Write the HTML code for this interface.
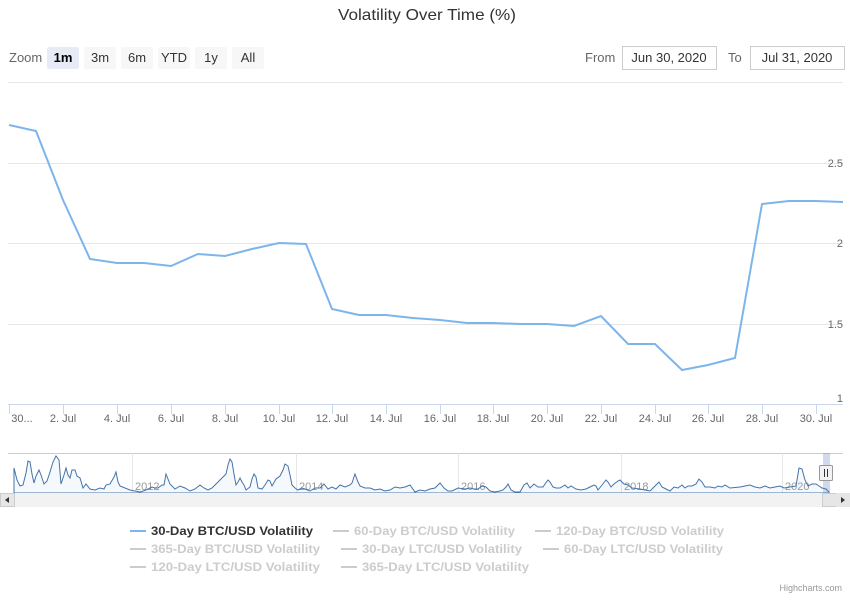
<!DOCTYPE html>
<html><head><style>
body{margin:0;background:#fff;font-family:"Liberation Sans",sans-serif;}
svg text{font-family:"Liberation Sans",sans-serif;}
</style></head><body>
<svg width="850" height="596" xmlns="http://www.w3.org/2000/svg">
<rect width="850" height="596" fill="#fff"/>
<text x="338" y="20" font-size="16" fill="#333" textLength="178" lengthAdjust="spacingAndGlyphs">Volatility Over Time (%)</text>
<text x="9" y="62" font-size="13" fill="#666">Zoom</text>
<rect x="47" y="47" width="32" height="22" rx="2" fill="#e6ebf5"/><text x="63" y="62" font-size="13" font-weight="bold" text-anchor="middle" fill="#000">1m</text>
<rect x="84" y="47" width="32" height="22" rx="2" fill="#f7f7f7"/><text x="100" y="62" font-size="13" text-anchor="middle" fill="#333">3m</text>
<rect x="121" y="47" width="32" height="22" rx="2" fill="#f7f7f7"/><text x="137" y="62" font-size="13" text-anchor="middle" fill="#333">6m</text>
<rect x="158" y="47" width="32" height="22" rx="2" fill="#f7f7f7"/><text x="174" y="62" font-size="13" text-anchor="middle" fill="#333">YTD</text>
<rect x="195" y="47" width="32" height="22" rx="2" fill="#f7f7f7"/><text x="211" y="62" font-size="13" text-anchor="middle" fill="#333">1y</text>
<rect x="232" y="47" width="32" height="22" rx="2" fill="#f7f7f7"/><text x="248" y="62" font-size="13" text-anchor="middle" fill="#333">All</text>
<text x="585" y="62" font-size="13" fill="#666">From</text>
<rect x="622.5" y="46.5" width="94" height="23" fill="#fff" stroke="#ccc"/><text x="669" y="62" font-size="13" text-anchor="middle" fill="#333">Jun 30, 2020</text>
<text x="728" y="62" font-size="13" fill="#666">To</text>
<rect x="750.5" y="46.5" width="94" height="23" fill="#fff" stroke="#ccc"/><text x="797" y="62" font-size="13" text-anchor="middle" fill="#333">Jul 31, 2020</text>
<g stroke="#e6e6e6" stroke-width="1">
<line x1="8" x2="843" y1="82.5" y2="82.5"/><line x1="8" x2="843" y1="163.5" y2="163.5"/><line x1="8" x2="843" y1="243.5" y2="243.5"/><line x1="8" x2="843" y1="324.5" y2="324.5"/>
</g>
<line x1="8" x2="843" y1="404.5" y2="404.5" stroke="#ccd6eb"/>
<g font-size="11" fill="#666" text-anchor="end">
<text x="843" y="167">2.5</text><text x="843" y="247">2</text><text x="843" y="328">1.5</text><text x="843" y="402">1</text>
</g>
<g stroke="#ccd6eb">
<line x1="9.5" x2="9.5" y1="404" y2="414"/><line x1="63.5" x2="63.5" y1="404" y2="414"/><line x1="117.5" x2="117.5" y1="404" y2="414"/><line x1="171.5" x2="171.5" y1="404" y2="414"/><line x1="225.5" x2="225.5" y1="404" y2="414"/><line x1="279.5" x2="279.5" y1="404" y2="414"/><line x1="332.5" x2="332.5" y1="404" y2="414"/><line x1="386.5" x2="386.5" y1="404" y2="414"/><line x1="440.5" x2="440.5" y1="404" y2="414"/><line x1="493.5" x2="493.5" y1="404" y2="414"/><line x1="547.5" x2="547.5" y1="404" y2="414"/><line x1="601.5" x2="601.5" y1="404" y2="414"/><line x1="655.5" x2="655.5" y1="404" y2="414"/><line x1="708.5" x2="708.5" y1="404" y2="414"/><line x1="762.5" x2="762.5" y1="404" y2="414"/><line x1="816.5" x2="816.5" y1="404" y2="414"/>
</g>
<g font-size="11" fill="#666" text-anchor="middle">
<text x="22" y="422">30...</text><text x="63" y="422">2. Jul</text><text x="117" y="422">4. Jul</text><text x="171" y="422">6. Jul</text><text x="225" y="422">8. Jul</text><text x="279" y="422">10. Jul</text><text x="332" y="422">12. Jul</text><text x="386" y="422">14. Jul</text><text x="440" y="422">16. Jul</text><text x="493" y="422">18. Jul</text><text x="547" y="422">20. Jul</text><text x="601" y="422">22. Jul</text><text x="655" y="422">24. Jul</text><text x="708" y="422">26. Jul</text><text x="762" y="422">28. Jul</text><text x="816" y="422">30. Jul</text>
</g>
<polyline fill="none" stroke="#7cb5ec" stroke-width="2" points="9,125 36,131 63,200 90,259 117,263 144,263 171,266 198,254 225,256 252,249 279,243 306,244 332,309 359,315 386,315 413,318 440,320 467,323 493,323 520,324 547,324 574,326 601,316 628,344 655,344 682,370 708,365 735,358 762,204 789,201 816,201 843,202"/>
<!-- navigator -->
<line x1="8" x2="843" y1="453.5" y2="453.5" stroke="#ccc"/>
<g stroke="#e6e6e6"><line x1="132.5" x2="132.5" y1="453" y2="493"/><line x1="296.5" x2="296.5" y1="453" y2="493"/><line x1="458.5" x2="458.5" y1="453" y2="493"/><line x1="621.5" x2="621.5" y1="453" y2="493"/><line x1="782.5" x2="782.5" y1="453" y2="493"/></g>
<g font-size="11" fill="#999"><text x="135" y="490">2012</text><text x="299" y="490">2014</text><text x="461" y="490">2016</text><text x="624" y="490">2018</text><text x="785" y="490">2020</text></g>
<path fill="rgba(124,181,236,0.08)" stroke="#4572a7" stroke-width="1" d="M14,468 L17,480 L20,486 L23,485 L26,473 L28,461 L30,462 L32,474 L34,483 L36,476 L39,470 L41,475 L44,484 L47,481 L50,472 L53,462 L56,456 L59,460 L61,484 L64,475 L66,468 L68,475 L70,478 L72,470 L75,470 L77,476 L80,478 L83,488 L86,484 L90,489 L95,490 L100,488 L104,489 L106,485 L110,484 L114,477 L116,472 L118,482 L120,486 L125,488 L130,490 L140,492 L146,490 L152,487 L155,488 L158,488 L162,485 L164,485 L166,474 L170,484 L175,489 L180,486 L185,488 L190,491 L195,489 L200,485 L204,488 L208,490 L212,488 L216,484 L220,480 L224,476 L226,474 L228,465 L230,459 L232,462 L234,474 L236,485 L238,482 L240,478 L242,482 L244,485 L246,490 L250,487 L252,479 L254,474 L256,477 L258,488 L262,489 L265,485 L268,480 L270,481 L272,486 L276,479 L280,476 L283,470 L285,464 L288,466 L290,475 L292,485 L295,488 L298,490 L302,488 L305,489 L310,491 L315,488 L320,488 L324,484 L328,489 L332,487 L336,489 L340,485 L345,487 L350,485 L352,483 L355,474 L358,482 L360,486 L365,488 L370,488 L375,490 L380,489 L385,491 L390,490 L395,487 L400,488 L405,487 L410,485 L415,492 L420,490 L425,491 L430,489 L435,488 L440,483 L444,488 L448,491 L452,491 L458,488 L465,489 L470,488 L474,489 L478,489 L482,486 L486,487 L490,491 L495,492 L500,491 L503,490 L506,487 L508,484 L511,490 L515,492 L520,492 L524,485 L527,483 L530,488 L534,484 L538,487 L543,487 L545,484 L548,480 L550,482 L553,487 L556,488 L560,488 L565,485 L568,488 L571,486 L576,489 L581,490 L586,489 L590,487 L594,485 L596,486 L598,490 L602,485 L606,480 L608,482 L611,487 L614,484 L618,481 L620,480 L624,484 L628,485 L632,488 L640,489 L645,490 L650,491 L653,488 L656,485 L659,482 L662,487 L666,489 L670,491 L674,487 L678,488 L682,485 L685,488 L688,486 L692,486 L696,484 L699,479 L702,482 L705,487 L710,487 L715,488 L718,486 L722,487 L725,485 L730,488 L740,487 L745,486 L750,485 L755,487 L760,488 L765,486 L770,488 L775,487 L780,486 L784,488 L790,487 L796,486 L799,468 L802,469 L805,480 L808,486 L812,484 L816,484 L819,486 L822,488 L826,489 L829,492 L829,493 L14,493 Z"/>
<rect x="823" y="453" width="7" height="40" fill="rgba(102,133,194,0.3)"/>
<rect x="819.5" y="465.5" width="13" height="15" rx="1" fill="#f2f2f2" stroke="#999"/>
<g stroke="#333"><line x1="824.5" x2="824.5" y1="469" y2="477"/><line x1="827.5" x2="827.5" y1="469" y2="477"/></g>
<rect x="0" y="493" width="850" height="14" fill="#f2f2f2"/>
<rect x="0.5" y="493.5" width="14" height="13" fill="#e6e6e6" stroke="#ccc"/>
<path d="M9,497 L5,500 L9,503 Z" fill="#333"/>
<rect x="822.5" y="493.5" width="14" height="13" fill="#e6e6e6" stroke="#ccc"/>
<rect x="836" y="493" width="14" height="14" fill="#e6e6e6"/>
<path d="M841,497 L845,500 L841,503 Z" fill="#333"/>
<!-- legend -->
<g font-size="12" font-weight="bold" lengthAdjust="spacingAndGlyphs">
<line x1="130" x2="146" y1="531" y2="531" stroke="#7cb5ec" stroke-width="2"/><text x="151" y="535" fill="#333" textLength="162" lengthAdjust="spacingAndGlyphs">30-Day BTC/USD Volatility</text>
<line x1="333" x2="349" y1="531" y2="531" stroke="#ccc" stroke-width="2"/><text x="354" y="535" fill="#ccc" textLength="161" lengthAdjust="spacingAndGlyphs">60-Day BTC/USD Volatility</text>
<line x1="535" x2="551" y1="531" y2="531" stroke="#ccc" stroke-width="2"/><text x="556" y="535" fill="#ccc" textLength="168" lengthAdjust="spacingAndGlyphs">120-Day BTC/USD Volatility</text>
<line x1="130" x2="146" y1="549" y2="549" stroke="#ccc" stroke-width="2"/><text x="151" y="553" fill="#ccc" textLength="169" lengthAdjust="spacingAndGlyphs">365-Day BTC/USD Volatility</text>
<line x1="341" x2="357" y1="549" y2="549" stroke="#ccc" stroke-width="2"/><text x="362" y="553" fill="#ccc" textLength="160" lengthAdjust="spacingAndGlyphs">30-Day LTC/USD Volatility</text>
<line x1="543" x2="559" y1="549" y2="549" stroke="#ccc" stroke-width="2"/><text x="564" y="553" fill="#ccc" textLength="159" lengthAdjust="spacingAndGlyphs">60-Day LTC/USD Volatility</text>
<line x1="130" x2="146" y1="567" y2="567" stroke="#ccc" stroke-width="2"/><text x="151" y="571" fill="#ccc" textLength="169" lengthAdjust="spacingAndGlyphs">120-Day LTC/USD Volatility</text>
<line x1="341" x2="357" y1="567" y2="567" stroke="#ccc" stroke-width="2"/><text x="362" y="571" fill="#ccc" textLength="167" lengthAdjust="spacingAndGlyphs">365-Day LTC/USD Volatility</text>
</g>
<text x="842" y="591" font-size="9" text-anchor="end" fill="#999">Highcharts.com</text>
</svg>
</body></html>
